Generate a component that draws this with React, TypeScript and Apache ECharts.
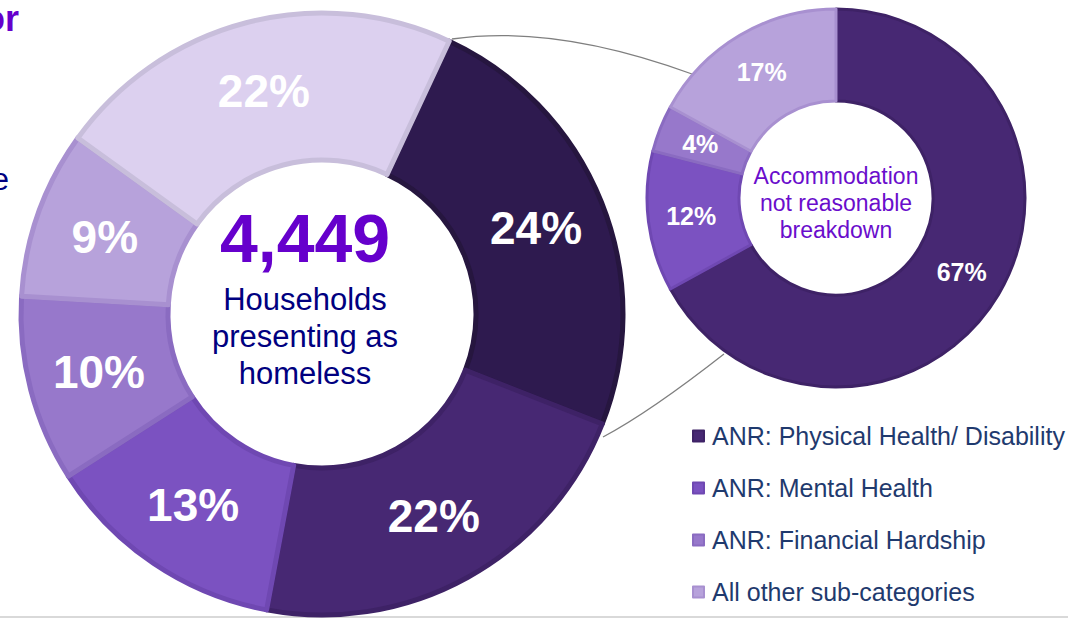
import React, { useEffect, useRef } from "react";
import * as echarts from "echarts";

// Main donut: households presenting as homeless (share by reason)
const mainNames = [
  "Accommodation not reasonable",
  "Reason B",
  "Reason C",
  "Reason D",
  "Reason E",
  "Reason F",
];
const mainValues = [24, 22, 13, 10, 9, 22];
const mainColors = ["#2E1A4F", "#472873", "#7B52C1", "#9778CB", "#B7A2DB", "#DCD0EF"];
const mainBorders = ["#26163f", "#3e2266", "#6f48b2", "#8a6bc1", "#a890d0", "#c8bedb"];

// Breakdown donut: accommodation not reasonable
const subNames = [
  "ANR: Physical Health/ Disability",
  "ANR: Mental Health",
  "ANR: Financial Hardship",
  "All other sub-categories",
];
const subValues = [67, 12, 4, 17];
const subColors = ["#472873", "#7B52C1", "#9778CB", "#B7A2DB"];
const subBorders = ["#3e2266", "#6f48b2", "#8a6bc1", "#a890d0"];

const totalHouseholds = "4,449";

export default function App() {
  const ref = useRef<HTMLDivElement>(null);

  useEffect(() => {
    if (!ref.current) return;
    const chart = echarts.init(ref.current, undefined, { renderer: "svg" });
    const font = "'Liberation Sans', Arial, sans-serif";

    const option = {
      animation: false,
      backgroundColor: "#ffffff",
      textStyle: { fontFamily: font },
      legend: {
        data: subNames,
        orient: "vertical",
        left: 687,
        top: 418,
        itemWidth: 11,
        itemHeight: 11,
        itemGap: 26,
        icon: "rect",
        selectedMode: false,
        textStyle: {
          fontFamily: font,
          fontSize: 25,
          lineHeight: 26,
          color: "#1f3a6e",
          padding: [0, 0, 0, 3],
        },
      },
      graphic: [
        {
          type: "bezierCurve",
          z: 0,
          shape: { x1: 452, y1: 39, cpx1: 555, cpy1: 24, x2: 692, y2: 74 },
          style: { stroke: "#7f7f7f", lineWidth: 1.3, fill: "none" },
        },
        {
          type: "bezierCurve",
          z: 0,
          shape: { x1: 603, y1: 437, cpx1: 650, cpy1: 412, x2: 724, y2: 354 },
          style: { stroke: "#7f7f7f", lineWidth: 1.3, fill: "none" },
        },
        {
          type: "rect",
          shape: { x: 0, y: 616, width: 1068, height: 2 },
          style: { fill: "#d9d9d9" },
        },
        {
          type: "text",
          x: 19,
          y: 36,
          style: {
            text: "or",
            fontFamily: font,
            fontWeight: "bold",
            fontSize: 36,
            fill: "#6600CC",
            textAlign: "right",
            textVerticalAlign: "bottom",
          },
        },
        {
          type: "text",
          x: 9,
          y: 195,
          style: {
            text: "e",
            fontFamily: font,
            fontSize: 31,
            fill: "#000080",
            textAlign: "right",
            textVerticalAlign: "bottom",
          },
        },
        {
          type: "text",
          z: 10,
          x: 305,
          y: 238,
          style: {
            text: totalHouseholds,
            fontFamily: font,
            fontWeight: "bold",
            fontSize: 68,
            fill: "#6600CC",
            textAlign: "center",
            textVerticalAlign: "middle",
          },
        },
        {
          type: "text",
          z: 10,
          x: 305,
          y: 336,
          style: {
            text: "Households\npresenting as\nhomeless",
            fontFamily: font,
            fontSize: 31,
            lineHeight: 37,
            fill: "#000080",
            textAlign: "center",
            textVerticalAlign: "middle",
          },
        },
        {
          type: "text",
          z: 10,
          x: 836,
          y: 203,
          style: {
            text: "Accommodation\nnot reasonable\nbreakdown",
            fontFamily: font,
            fontSize: 23,
            lineHeight: 27,
            fill: "#6a0dcc",
            textAlign: "center",
            textVerticalAlign: "middle",
          },
        },
      ],
      series: [
        {
          type: "pie",
          name: "Households",
          center: [322, 314],
          radius: [154, 301],
          startAngle: 65,
          clockwise: true,
          avoidLabelOverlap: false,
          silent: true,
          label: {
            show: true,
            position: "inside",
            formatter: "{c}%",
            color: "#ffffff",
            fontFamily: font,
            fontSize: 46,
            fontWeight: "bold",
          },
          labelLine: { show: false },
          data: mainValues.map((v, i) => ({
            name: mainNames[i],
            value: v,
            itemStyle: { color: mainColors[i], borderColor: mainBorders[i], borderWidth: 5 },
          })),
        },
        {
          type: "pie",
          name: "Breakdown",
          center: [836, 198],
          radius: [97, 189],
          startAngle: 90,
          clockwise: true,
          avoidLabelOverlap: false,
          silent: true,
          label: {
            show: true,
            position: "inside",
            formatter: "{c}%",
            color: "#ffffff",
            fontFamily: font,
            fontSize: 25,
            fontWeight: "bold",
          },
          labelLine: { show: false },
          data: subValues.map((v, i) => ({
            name: subNames[i],
            value: v,
            itemStyle: { color: subColors[i], borderColor: subBorders[i], borderWidth: 3 },
          })),
        },
      ],
    };

    chart.setOption(option as any);
    return () => chart.dispose();
  }, []);

  return (
    <div
      ref={ref}
      style={{ position: "fixed", left: 0, top: 0, width: 1068, height: 618 }}
    />
  );
}
